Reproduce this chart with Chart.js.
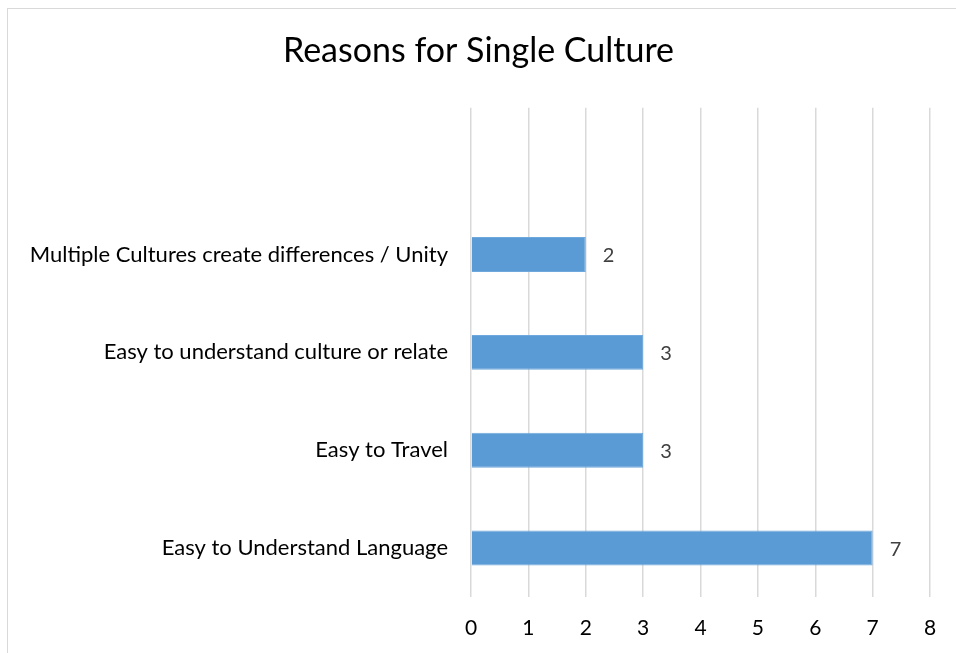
<!DOCTYPE html>
<html>
<head>
<meta charset="utf-8">
<title>Reasons for Single Culture</title>
<script src="https://cdn.jsdelivr.net/npm/chart.js@4.4.0/dist/chart.umd.min.js"></script>
<style>
  body { margin: 0; background: #fff; overflow: hidden; }
  #wrap { position: absolute; left: 0; top: 0; width: 956px; height: 653px; }
  #frame { position: absolute; left: 7px; top: 8px; width: 960px; height: 660px; border: 1px solid #d9d9d9; box-sizing: border-box; }
  canvas { position: absolute; left: 0; top: 0; }
</style>
</head>
<body>
<div id="wrap">
  <div id="frame"></div>
  <canvas id="barChart" width="956" height="653"></canvas>
</div>
<script>
// top slot is left blank, then reasons listed top to bottom
var reasons = [
  "",
  "Multiple Cultures create differences / Unity",
  "Easy to understand culture or relate",
  "Easy to Travel",
  "Easy to Understand Language"
];
var counts = [null, 2, 3, 3, 7];
var axisMax = 8;

// writes the count just past the end of each bar
var valueLabels = {
  id: "valueLabels",
  afterDatasetsDraw: function(chart){
    var ctx = chart.ctx;
    var meta = chart.getDatasetMeta(0);
    ctx.save();
    ctx.font = "20px Lato";
    ctx.fillStyle = "#404040";
    ctx.textAlign = "left";
    ctx.textBaseline = "middle";
    meta.data.forEach(function(bar, i){
      var v = counts[i];
      if (v === null) return;
      ctx.fillText(String(v), bar.x + 17, bar.y + 1);
    });
    ctx.restore();
  }
};

new Chart("barChart", {
  type: "bar",
  data: {
    labels: reasons,
    datasets: [{
      data: counts,
      backgroundColor: "#5B9BD5",
      borderColor: "#6fa8dc",
      borderWidth: 1,
      barPercentage: 0.357,
      categoryPercentage: 1
    }]
  },
  options: {
    indexAxis: "y",
    responsive: false,
    animation: false,
    layout: { padding: { left: 27, right: 26, top: 0, bottom: 12 } },
    plugins: {
      legend: { display: false },
      tooltip: { enabled: false },
      title: {
        display: true,
        text: "Reasons for Single Culture",
        color: "#000",
        font: { family: "Lato", size: 34, weight: "normal" },
        padding: { top: 31, bottom: 36 }
      }
    },
    scales: {
      x: {
        min: 0,
        max: axisMax,
        ticks: { stepSize: 1, color: "#000", padding: 19, font: { family: "Lato", size: 21 } },
        grid: { color: "#d9d9d9", lineWidth: 1.5, drawTicks: false },
        border: { display: false },
        afterFit: function(scale){ scale.height = 44; }
      },
      y: {
        ticks: { color: "#000", padding: 23, font: { family: "Lato", size: 22 } },
        grid: { display: false, drawTicks: false },
        border: { display: false },
        afterFit: function(scale){ scale.width = 444; }
      }
    }
  },
  plugins: [valueLabels]
});
</script>
</body>
</html>
